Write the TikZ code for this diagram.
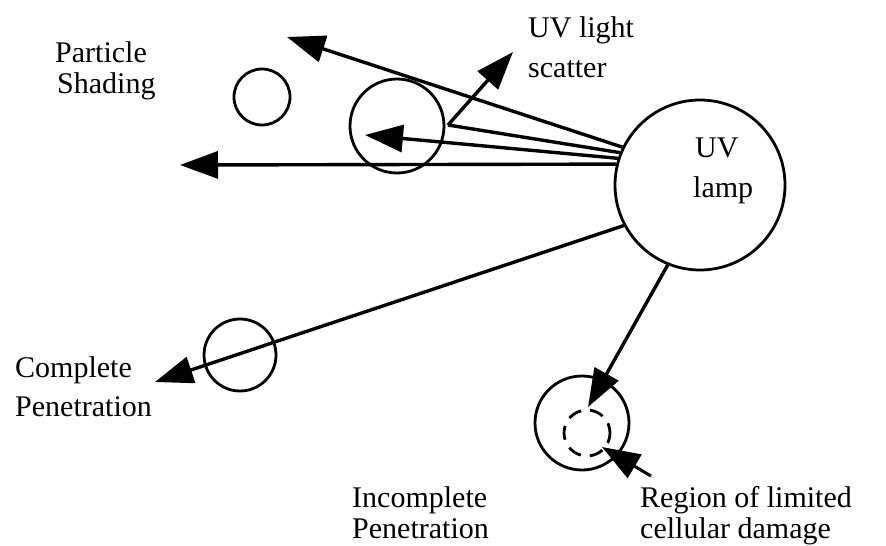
\documentclass[tikz,border=0pt]{standalone}
\usepackage{fontspec}
\setmainfont{Liberation Serif}
\usetikzlibrary{arrows.meta}
\begin{document}
\begin{tikzpicture}[x=1pt,y=-1pt,
  ring/.style={circle,draw,line width=2.8pt,inner sep=0pt},
  ray/.style={line width=3.4pt,-{Triangle[length=38pt,width=27pt]}},
  plain/.style={line width=3.4pt},
  lbl/.style={anchor=base west,inner sep=0pt,font=\fontsize{30}{31}\selectfont}]
\useasboundingbox (0,0) rectangle (886,546);
% circles
\node[ring,minimum size=170pt] (lamp) at (700,185) {};
\node[ring,minimum size=56pt] (p1) at (262,97) {};
\node[ring,minimum size=94pt] (p2) at (397,126) {};
\node[ring,minimum size=72pt] (p3) at (240,355) {};
\node[ring,minimum size=94pt] (p4) at (582,423) {};
\draw[line width=2.8pt,dash pattern=on 14pt off 9pt,dash phase=4pt] (587,433) circle[radius=23pt];
% free ends
\coordinate (t1) at (287,37);
\coordinate (sc) at (448,125);
\coordinate (t2) at (513,52);
\coordinate (t3) at (365,135);
\coordinate (t4) at (180,165);
\coordinate (t5) at (155,382);
\coordinate (t6) at (588,407);
\coordinate (rt) at (651,476);
\coordinate (t7) at (602,447);
% rays
\draw[ray] (lamp.154) -- (t1);
\draw[plain] (lamp.158) -- (sc);
\draw[ray] (sc) -- (t2);
\draw[ray] (lamp.162) -- (t3);
\draw[ray] (lamp.166) -- (t4);
\draw[ray] (lamp.208) -- (t5);
\draw[ray] (lamp.248) -- (t6);
\draw[ray,line width=3pt] (rt) -- (t7);
% labels
\node[lbl] (l1) at (55,62) {Particle};
\node[lbl] (l2) at (57,93) {Shading};
\node[lbl] (l3) at (528,37) {UV light};
\node[lbl] (l4) at (528,77) {scatter};
\node[lbl] (l5) at (695,157) {UV};
\node[lbl] (l6) at (693,197) {lamp};
\node[lbl] (l7) at (15,377) {Complete};
\node[lbl] (l8) at (15,416) {Penetration};
\node[lbl] (l9) at (352,507) {Incomplete};
\node[lbl] (l10) at (352,538) {Penetration};
\node[lbl] (l11) at (640,507) {Region of limited};
\node[lbl] (l12) at (640,538) {cellular damage};
\end{tikzpicture}
\end{document}
